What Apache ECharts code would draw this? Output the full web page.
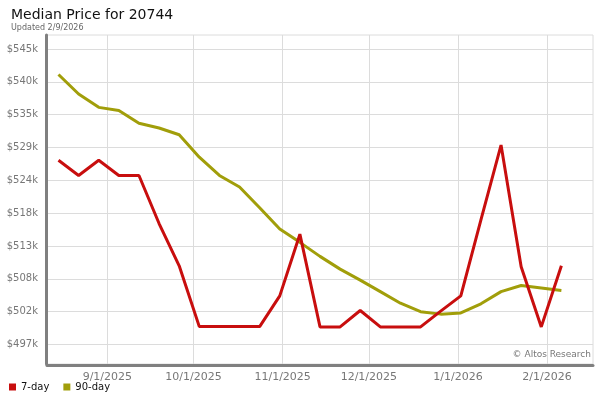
<!DOCTYPE html>
<html>
<head>
<meta charset="utf-8">
<script src="https://cdn.jsdelivr.net/npm/echarts@6/dist/echarts.min.js"></script>
<style>html,body{margin:0;padding:0;background:#fff;}#c{width:600px;height:400px;}</style>
</head>
<body>
<div id="c"></div>
<script>
var dates = ['2025-08-15','2025-08-22','2025-08-29','2025-09-05','2025-09-12','2025-09-19','2025-09-26','2025-10-03','2025-10-10','2025-10-17','2025-10-24','2025-10-31','2025-11-07','2025-11-14','2025-11-21','2025-11-28','2025-12-05','2025-12-12','2025-12-19','2025-12-26','2026-01-02','2026-01-09','2026-01-16','2026-01-23','2026-01-30','2026-02-06'];
var sevenDay = [527.1,524.6,527.1,524.6,524.6,516.7,509.75,499.75,499.75,499.75,499.75,504.8,514.95,499.7,499.7,502.4,499.7,499.7,499.7,502.3,504.8,517.3,529.6,509.6,499.7,509.75];
var ninetyDay = [541.2,538.0,535.8,535.3,533.2,532.4,531.3,527.6,524.6,522.7,519.3,515.8,513.6,511.3,509.2,507.4,505.5,503.6,502.2,501.8,502.0,503.5,505.5,506.5,506.1,505.7];
var yTicks = [496.8,502.2,507.6,513.0,518.4,523.8,529.2,534.6,540.0,545.4];
var xTicks = ['2025-09-01','2025-10-01','2025-11-01','2025-12-01','2026-01-01','2026-02-01'];
var seriesNames = ['7-day','90-day'];
var colors = ['#c80e0e','#a19e0a'];

function ts(d){ return Date.parse(d + 'T00:00:00Z'); }
function pairs(vals){ return dates.map(function(d,i){ return [ts(d), vals[i]]; }); }
function fmtDate(v){ var d = new Date(v); return (d.getUTCMonth()+1)+'/'+d.getUTCDate()+'/'+d.getUTCFullYear(); }
var xTickTs = xTicks.map(ts);

var chart = echarts.init(document.getElementById('c'), null, {renderer:'canvas'});
chart.setOption({
  animation:false,
  backgroundColor:'#fff',
  color: colors,
  title:{
    text:'Median Price for 20744',
    subtext:'Updated 2/9/2026',
    left:6, top:3, itemGap:2,
    textStyle:{fontFamily:'DejaVu Sans', fontSize:14, fontWeight:'normal', color:'#111'},
    subtextStyle:{fontFamily:'DejaVu Sans', fontSize:8, color:'#666'}
  },
  legend:{
    left:4, bottom:3, itemWidth:7, itemHeight:7, itemGap:14, icon:'rect',
    textStyle:{fontFamily:'DejaVu Sans', fontSize:10, color:'#111'},
    data: seriesNames
  },
  graphic:[{
    type:'text', right:9, bottom:41,
    style:{text:'\u00a9 Altos Research', font:'9px "DejaVu Sans"', fill:'#777'}
  }],
  grid:{left:47, right:7, top:35, bottom:36, show:true, borderColor:'#dcdcdc', borderWidth:1, containLabel:false},
  xAxis:{
    type:'value', min:ts('2025-08-11'), max:ts('2026-02-17'), scale:true,
    axisLine:{show:true, onZero:false, lineStyle:{color:'#808080', width:3}},
    offset:1,
    axisTick:{show:false, customValues: xTickTs},
    axisLabel:{customValues: xTickTs, formatter: fmtDate, color:'#777', fontFamily:'DejaVu Sans', fontSize:11, margin:7},
    splitLine:{show:true, lineStyle:{color:'#dcdcdc', width:1}}
  },
  yAxis:{
    type:'value', min:493.6, max:547.7, scale:true,
    axisLine:{show:true, onZero:false, lineStyle:{color:'#808080', width:3}},
    offset:1,
    axisTick:{show:false, customValues: yTicks},
    axisLabel:{customValues: yTicks, formatter:function(v){ return '$'+Math.round(v)+'k'; }, color:'#777', fontFamily:'DejaVu Sans', fontSize:10, margin:8},
    splitLine:{show:true, lineStyle:{color:'#dcdcdc', width:1}}
  },
  series:[
    {name:seriesNames[0], type:'line', data:pairs(sevenDay), showSymbol:false, lineStyle:{width:3, color:colors[0]}, itemStyle:{color:colors[0]}, z:3},
    {name:seriesNames[1], type:'line', data:pairs(ninetyDay), showSymbol:false, lineStyle:{width:3, color:colors[1]}, itemStyle:{color:colors[1]}, z:2}
  ]
});
</script>
</body>
</html>
